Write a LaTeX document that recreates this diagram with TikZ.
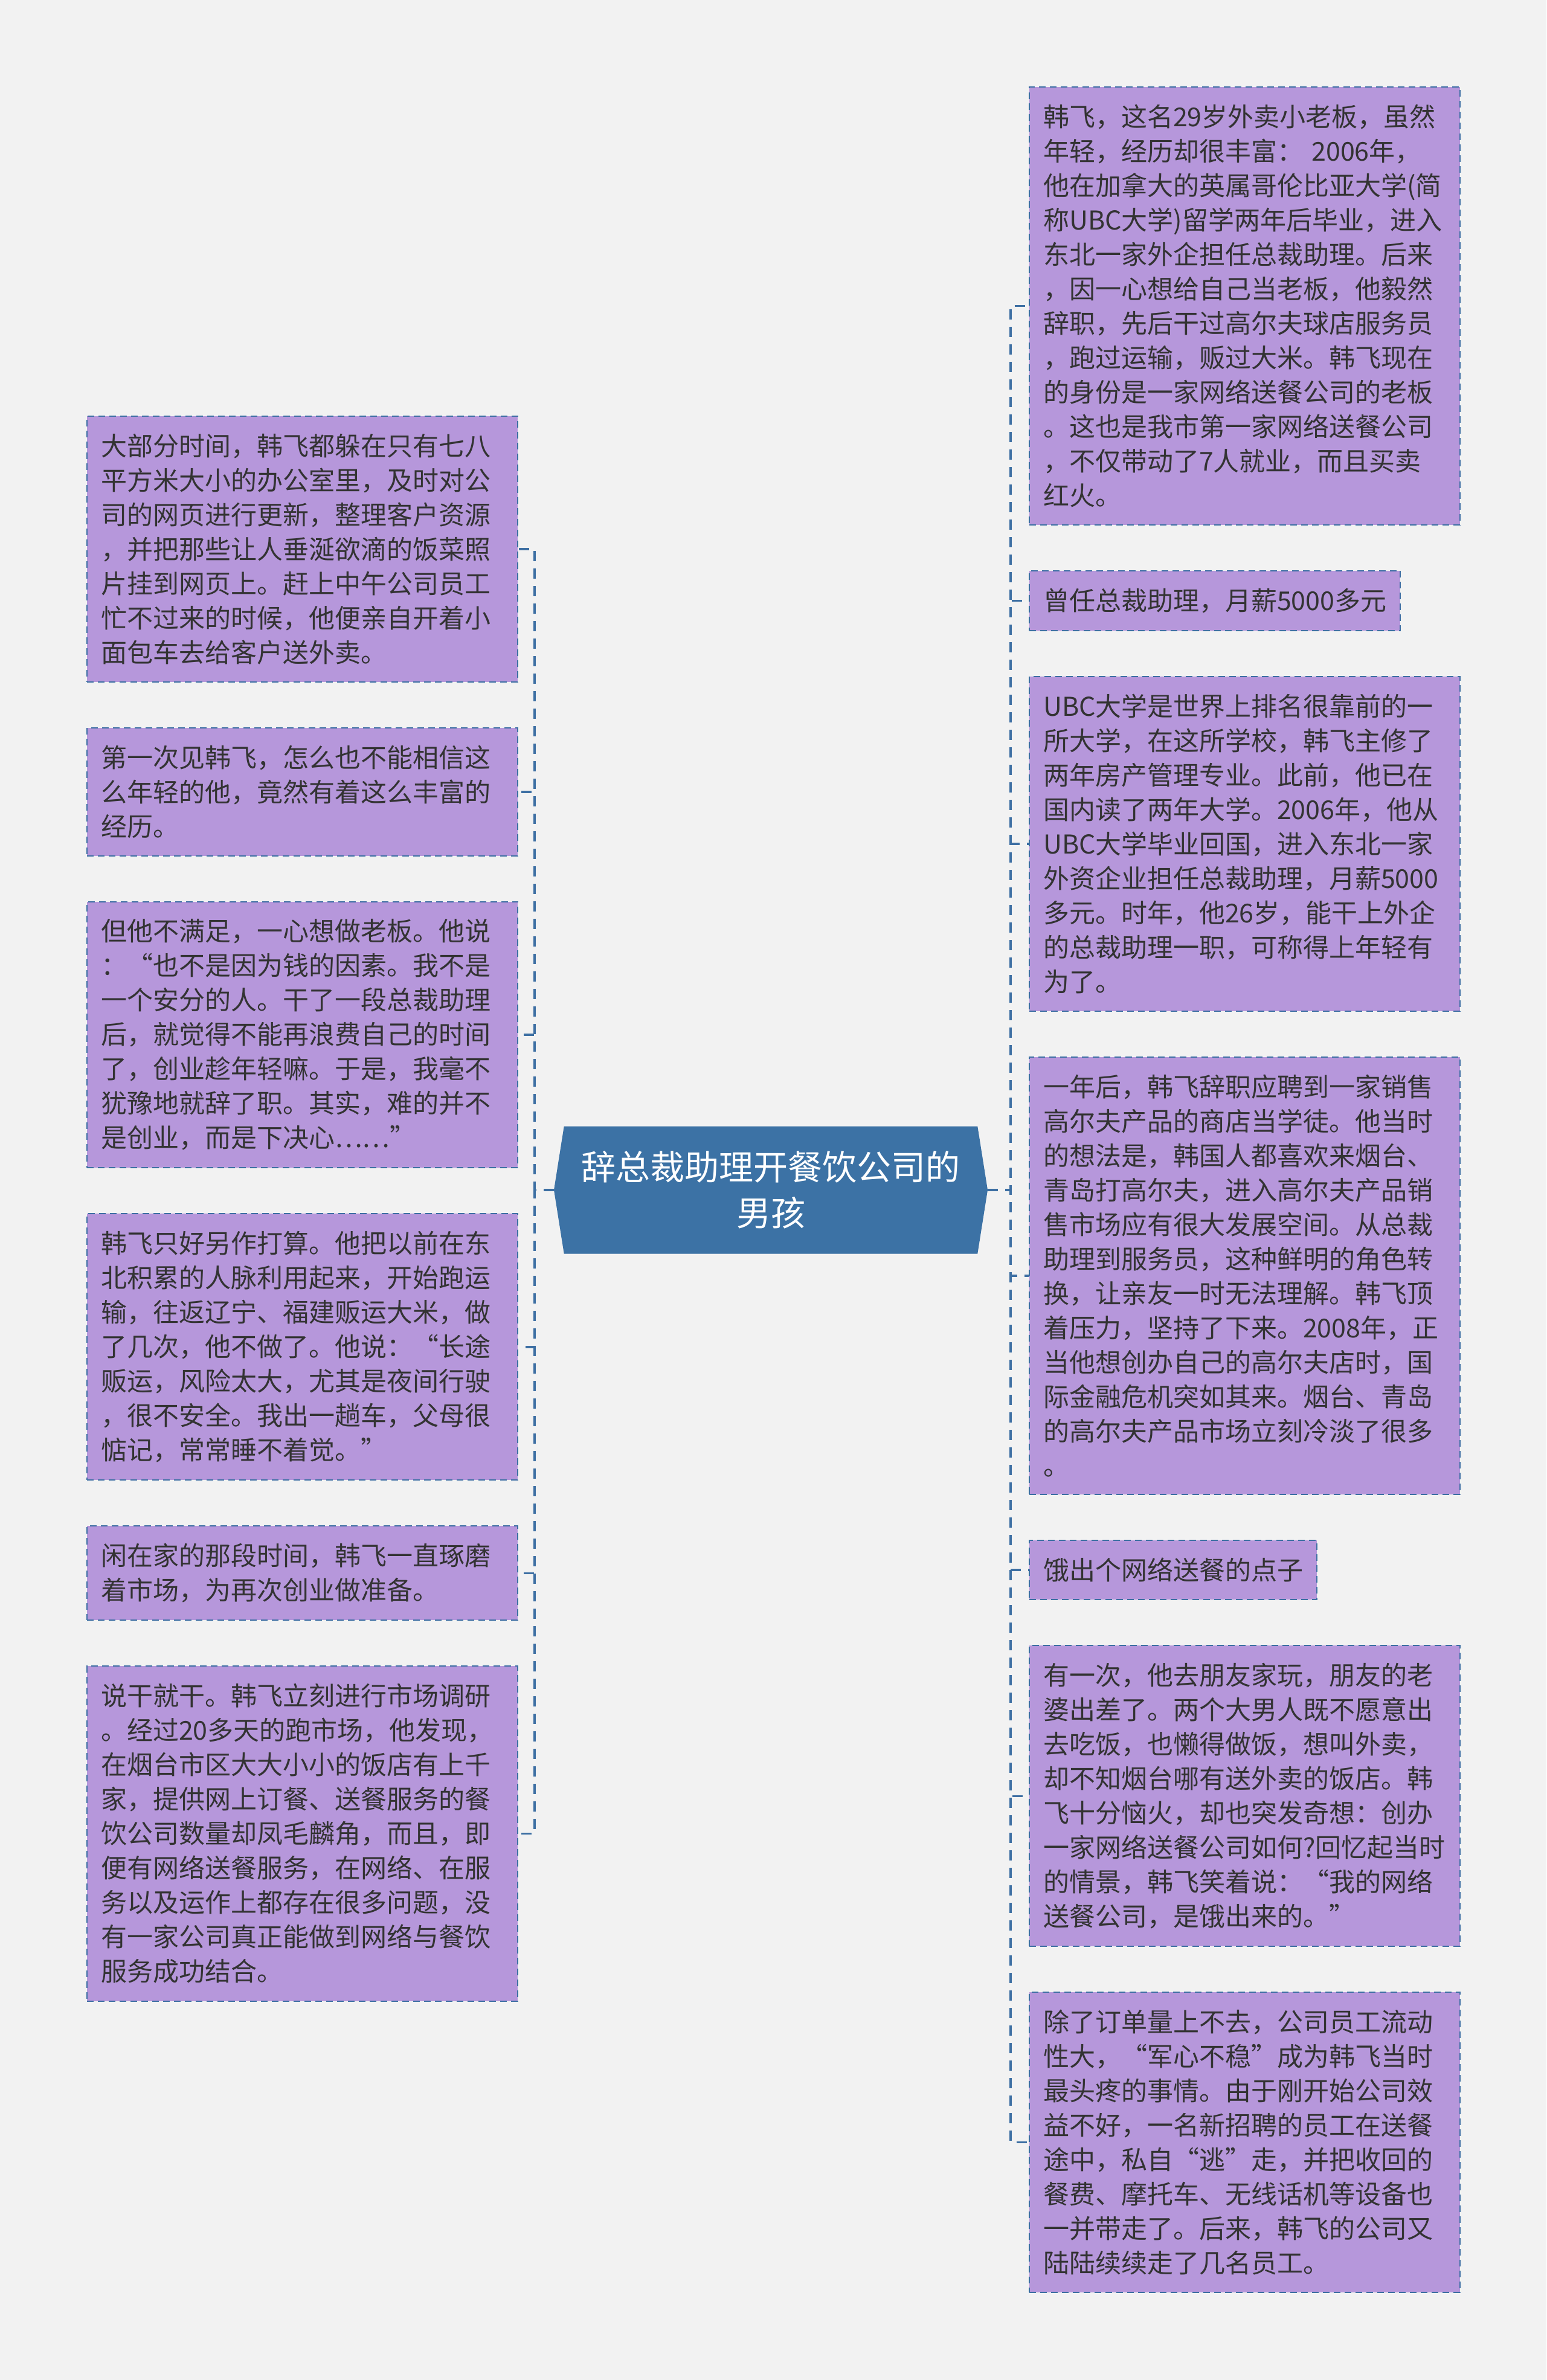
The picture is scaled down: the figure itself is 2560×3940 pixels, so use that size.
\documentclass[tikz,border=0pt]{standalone}
\usepackage{fontspec}
\setmainfont{Noto Sans CJK SC}
\usetikzlibrary{positioning,shapes.symbols}

\definecolor{bgc}{HTML}{F2F2F2}
\definecolor{leaffill}{HTML}{B697DB}
\definecolor{linkblue}{HTML}{3D6FA3}
\definecolor{rootblue}{HTML}{3C72A5}
\definecolor{txt}{HTML}{333333}
\newcommand{\leaffont}{\fontsize{43}{57}\selectfont}
\newcommand{\rootfont}{\fontsize{57}{76}\selectfont}

\begin{document}
\begin{tikzpicture}[x=1pt, y=-1pt,
  leaf/.style={draw=linkblue, line width=2pt, dash pattern=on 11pt off 7pt,
               fill=leaffill, text=txt, font=\leaffont, align=left,
               inner xsep=23pt, inner ysep=29pt},
  wide/.style={leaf, text width=667pt},
  root/.style={signal, signal to=west and east, signal pointer angle=162,
               fill=rootblue, text=white, font=\rootfont, align=center,
               minimum width=718pt, minimum height=211pt, inner sep=0pt},
  link/.style={draw=linkblue, line width=3.4pt, dash pattern=on 17pt off 12pt}]
  \useasboundingbox (0,0) rectangle (2560,3940);
  \fill[bgc] (0,0) rectangle (2560,3940);

  \node[root] (root) at (1276,1970) {辞总裁助理开餐饮公司的\\男孩};
  \coordinate (lb) at (885,1970);
  \coordinate (rb) at (1673,1970);

  % left column
  \node[wide, anchor=north west] (l1) at (143,688) {大部分时间，韩飞都躲在只有七八\\平方米大小的办公室里，及时对公\\司的网页进行更新，整理客户资源\\，并把那些让人垂涎欲滴的饭菜照\\片挂到网页上。赶上中午公司员工\\忙不过来的时候，他便亲自开着小\\面包车去给客户送外卖。};
  \node[wide, below=74pt of l1.south west, anchor=north west] (l2) {第一次见韩飞，怎么也不能相信这\\么年轻的他，竟然有着这么丰富的\\经历。};
  \node[wide, below=74pt of l2.south west, anchor=north west] (l3) {但他不满足，一心想做老板。他说\\：“也不是因为钱的因素。我不是\\一个安分的人。干了一段总裁助理\\后，就觉得不能再浪费自己的时间\\了，创业趁年轻嘛。于是，我毫不\\犹豫地就辞了职。其实，难的并不\\是创业，而是下决心……”};
  \node[wide, below=74pt of l3.south west, anchor=north west] (l4) {韩飞只好另作打算。他把以前在东\\北积累的人脉利用起来，开始跑运\\输，往返辽宁、福建贩运大米，做\\了几次，他不做了。他说：“长途\\贩运，风险太大，尤其是夜间行驶\\，很不安全。我出一趟车，父母很\\惦记，常常睡不着觉。”};
  \node[wide, below=74pt of l4.south west, anchor=north west] (l5) {闲在家的那段时间，韩飞一直琢磨\\着市场，为再次创业做准备。};
  \node[wide, below=74pt of l5.south west, anchor=north west] (l6) {说干就干。韩飞立刻进行市场调研\\。经过20多天的跑市场，他发现，\\在烟台市区大大小小的饭店有上千\\家，提供网上订餐、送餐服务的餐\\饮公司数量却凤毛麟角，而且，即\\便有网络送餐服务，在网络、在服\\务以及运作上都存在很多问题，没\\有一家公司真正能做到网络与餐饮\\服务成功结合。};

  % right column
  \node[wide, anchor=north west] (r1) at (1703,143) {韩飞，这名29岁外卖小老板，虽然\\年轻，经历却很丰富： 2006年，\\他在加拿大的英属哥伦比亚大学(简\\称UBC大学)留学两年后毕业，进入\\东北一家外企担任总裁助理。后来\\，因一心想给自己当老板，他毅然\\辞职，先后干过高尔夫球店服务员\\，跑过运输，贩过大米。韩飞现在\\的身份是一家网络送餐公司的老板\\。这也是我市第一家网络送餐公司\\，不仅带动了7人就业，而且买卖\\红火。};
  \node[leaf, below=74pt of r1.south west, anchor=north west] (r2) {曾任总裁助理，月薪5000多元};
  \node[wide, below=74pt of r2.south west, anchor=north west] (r3) {UBC大学是世界上排名很靠前的一\\所大学，在这所学校，韩飞主修了\\两年房产管理专业。此前，他已在\\国内读了两年大学。2006年，他从\\UBC大学毕业回国，进入东北一家\\外资企业担任总裁助理，月薪5000\\多元。时年，他26岁，能干上外企\\的总裁助理一职，可称得上年轻有\\为了。};
  \node[wide, below=74pt of r3.south west, anchor=north west] (r4) {一年后，韩飞辞职应聘到一家销售\\高尔夫产品的商店当学徒。他当时\\的想法是，韩国人都喜欢来烟台、\\青岛打高尔夫，进入高尔夫产品销\\售市场应有很大发展空间。从总裁\\助理到服务员，这种鲜明的角色转\\换，让亲友一时无法理解。韩飞顶\\着压力，坚持了下来。2008年，正\\当他想创办自己的高尔夫店时，国\\际金融危机突如其来。烟台、青岛\\的高尔夫产品市场立刻冷淡了很多\\。};
  \node[leaf, below=74pt of r4.south west, anchor=north west] (r5) {饿出个网络送餐的点子};
  \node[wide, below=74pt of r5.south west, anchor=north west] (r6) {有一次，他去朋友家玩，朋友的老\\婆出差了。两个大男人既不愿意出\\去吃饭，也懒得做饭，想叫外卖，\\却不知烟台哪有送外卖的饭店。韩\\飞十分恼火，却也突发奇想：创办\\一家网络送餐公司如何?回忆起当时\\的情景，韩飞笑着说：“我的网络\\送餐公司，是饿出来的。”};
  \node[wide, below=74pt of r6.south west, anchor=north west] (r7) {除了订单量上不去，公司员工流动\\性大，“军心不稳”成为韩飞当时\\最头疼的事情。由于刚开始公司效\\益不好，一名新招聘的员工在送餐\\途中，私自“逃”走，并把收回的\\餐费、摩托车、无线话机等设备也\\一并带走了。后来，韩飞的公司又\\陆陆续续走了几名员工。};

  % connectors
  \draw[link] (root.west) -- (lb) |- (l1.east);
  \draw[link] (root.west) -- (lb) |- (l2.east);
  \draw[link] (root.west) -- (lb) |- (l3.east);
  \draw[link] (root.west) -- (lb) |- (l4.east);
  \draw[link] (root.west) -- (lb) |- (l5.east);
  \draw[link] (root.west) -- (lb) |- (l6.east);
  \draw[link] (root.east) -- (rb) |- (r1.west);
  \draw[link] (root.east) -- (rb) |- (r2.west);
  \draw[link] (root.east) -- (rb) |- (r3.west);
  \draw[link] (root.east) -- (rb) |- (r4.west);
  \draw[link] (root.east) -- (rb) |- (r5.west);
  \draw[link] (root.east) -- (rb) |- (r6.west);
  \draw[link] (root.east) -- (rb) |- (r7.west);
\end{tikzpicture}
\end{document}
